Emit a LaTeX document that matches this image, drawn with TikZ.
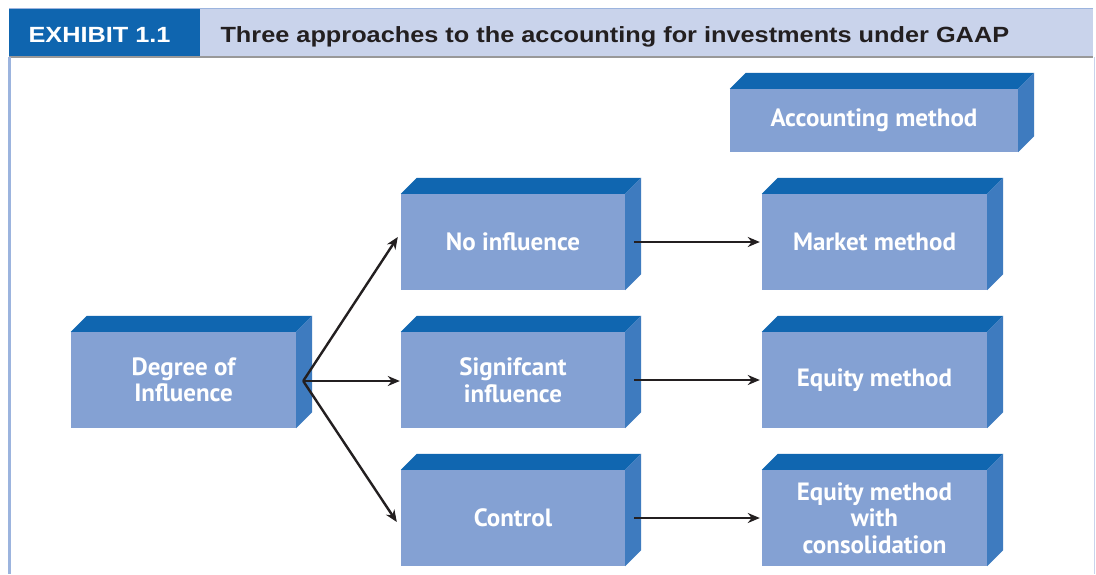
\documentclass[tikz,border=0pt]{standalone}
\usepackage{fontspec}
\usetikzlibrary{arrows.meta,calc}
\newfontfamily\headfont{Liberation Sans}[FakeStretch=1.15]
\newfontfamily\boxfont{PT Sans}
\definecolor{topc}{HTML}{1066B0}
\definecolor{sidec}{HTML}{3E7BBF}
\definecolor{frontc}{HTML}{84A1D3}
\definecolor{headdark}{HTML}{0F65AF}
\definecolor{headlight}{HTML}{C9D3EB}
\definecolor{frameline}{HTML}{9CB4DE}
\definecolor{inkc}{HTML}{231F20}
\tikzset{
  cube/.style={fill=frontc, text=white, inner sep=0pt, align=center,
    minimum width=225pt, minimum height=96pt,
    font=\boxfont\bfseries\fontsize{25}{26.5}\selectfont},
  headtext/.style={anchor=base west, font=\headfont\bfseries\fontsize{22}{24}\selectfont},
  arr/.style={draw=inkc, line width=2.4pt, -{Stealth[length=12pt,width=10pt]}},
}
\newcommand\cubefaces[1]{%
  \fill[topc] (#1.north west) -- ++(16pt,16pt) -- ($(#1.north east)+(16pt,16pt)$) -- (#1.north east) -- cycle;
  \fill[sidec] (#1.north east) -- ++(16pt,16pt) -- ($(#1.south east)+(16pt,16pt)$) -- (#1.south east) -- cycle;
}
\begin{document}
\begin{tikzpicture}[x=1pt,y=-1pt]
\useasboundingbox (0,0) rectangle (1096,574);
\fill[white] (0,0) rectangle (1096,574);
% header band
\fill[headlight] (9,8) rectangle (1093,57);
\fill[headdark] (9,8) rectangle (200,56);
\draw[frameline, line width=1.5pt] (9,8.5) -- (1093,8.5);
\draw[black!40, line width=2pt] (9,57) -- (1093,57);
\node[headtext, text=white] (exh) at (25,42) {EXHIBIT 1.1};
\node[headtext, text=inkc] (title) at (217,42) {Three approaches to the accounting for investments under GAAP};
% frame sides
\draw[frameline, line width=3pt] (9,57) -- (9,574);
\draw[headlight, line width=1.5pt] (1094.5,57) -- (1094.5,574);
% boxes
\node[cube] (doi) at (183.5,380) {Degree of\\Influence};
\node[cube, minimum width=224pt] (noinf) at (513,242) {No influence};
\node[cube, minimum width=224pt] (sig) at (513,380) {Signifcant\\influence};
\node[cube, minimum width=224pt] (ctrl) at (513,518) {Control};
\node[cube] (market) at (874.5,242) {Market method};
\node[cube] (equity) at (874.5,380) {Equity method};
\node[cube] (eqcons) at (874.5,518) {Equity method\\with\\consolidation};
\node[cube, minimum width=288pt, minimum height=63pt] (acct) at (874,120.5) {Accounting method};
\foreach \n in {doi,noinf,sig,ctrl,market,equity,eqcons,acct} {\cubefaces{\n}}
% connectors
\coordinate (fan) at ([xshift=7pt,yshift=-1pt]doi.east);
\draw[arr] (fan) -- ([shift={(-3pt,5pt)}]noinf.west);
\draw[arr] (fan) -- ([shift={(-1pt,-1pt)}]sig.west);
\draw[arr] (fan) -- ([shift={(-4pt,-4pt)}]ctrl.west);
\draw[arr] ([xshift=9pt]noinf.east) -- ([xshift=-2pt]market.west);
\draw[arr] ([xshift=9pt]sig.east) -- ([xshift=-2pt]equity.west);
\draw[arr] ([xshift=9pt]ctrl.east) -- ([xshift=-2pt]eqcons.west);
\end{tikzpicture}
\end{document}
